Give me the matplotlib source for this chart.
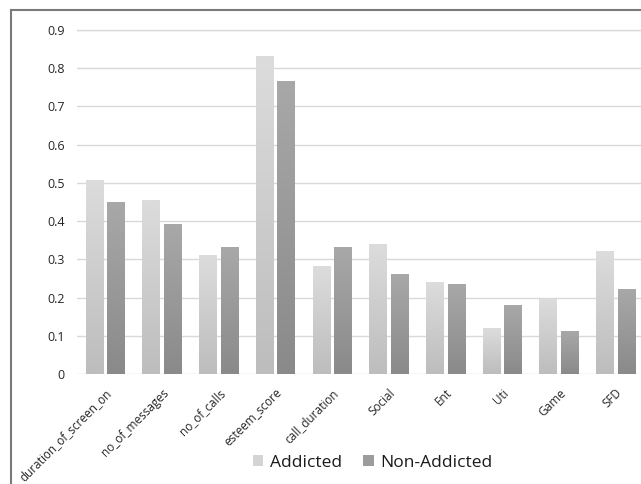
import numpy as np
import matplotlib
matplotlib.use("Agg")
import matplotlib.pyplot as plt
from matplotlib.lines import Line2D
from matplotlib.patches import Patch

plt.rcParams['font.family'] = ['Open Sans', 'DejaVu Sans']

categories = ["duration_of_screen_on", "no_of_messages", "no_of_calls", "esteem_score",
              "call_duration", "Social", "Ent", "Uti", "Game", "SFD"]
addicted = [0.505, 0.455, 0.31, 0.83, 0.28, 0.34, 0.24, 0.12, 0.195, 0.32]
non_addicted = [0.45, 0.39, 0.33, 0.765, 0.33, 0.26, 0.235, 0.18, 0.11, 0.22]
y_ticks = [0, 0.1, 0.2, 0.3, 0.4, 0.5, 0.6, 0.7, 0.8, 0.9]
series_names = ["Addicted", "Non-Addicted"]

W, H = 641, 484
fig = plt.figure(figsize=(W / 100, H / 100), dpi=100)

# plot area in pixel terms
left, right, bottom, top = 77, 644, 374, 30
ax = fig.add_axes([left / W, 1 - bottom / H, (right - left) / W, (bottom - top) / H])

x = np.arange(len(categories))
bw = 0.31
off = 0.19

# gradient colours (top, bottom) for each series
grad = {
    "Addicted": ("#dcdcdc", "#bdbdbd"),
    "Non-Addicted": ("#a8a8a8", "#8a8a8a"),
}

def hex2rgb(h):
    h = h.lstrip('#')
    return np.array([int(h[i:i + 2], 16) / 255 for i in (0, 2, 4)])

def gradient_bars(xs, vals, name):
    top_c, bot_c = (hex2rgb(c) for c in grad[name])
    t = np.linspace(0, 1, 64)[:, None]
    img = (top_c[None, :] * (1 - t) + bot_c[None, :] * t)[:, None, :]
    bars = ax.bar(xs, vals, bw, color="none", edgecolor="none", zorder=3)
    for b in bars:
        x0, w, h = b.get_x(), b.get_width(), b.get_height()
        ax.imshow(img, extent=[x0, x0 + w, 0, h], aspect="auto", zorder=2,
                  interpolation="bilinear")

gradient_bars(x - off, addicted, "Addicted")
gradient_bars(x + off, non_addicted, "Non-Addicted")

ax.set_xlim(-0.5, len(categories) - 0.5)
ax.set_ylim(0, 0.9)
ax.set_yticks(y_ticks)
ax.set_yticklabels([f"{v:g}" for v in y_ticks], fontsize=9, color="#262626")
ax.yaxis.grid(True, color="#d9d9d9", linewidth=1.0, zorder=0)
ax.set_axisbelow(True)
ax.tick_params(axis="both", length=0)
ax.tick_params(axis="y", pad=9)
for s in ax.spines.values():
    s.set_visible(False)
ax.set_xticks(x)
ax.set_xticklabels(categories, rotation=45, ha="right", rotation_mode="anchor",
                   fontsize=8.5, color="#262626")
ax.tick_params(axis="x", pad=9)

# keep the 0.9 gridline visible at the top edge
ax.axhline(0.9, color="#d9d9d9", linewidth=1.0, zorder=0, clip_on=False)

# outer chart frame
frame_color = "#7a7a7a"
fig.add_artist(Line2D([11 / W, 11 / W], [0, 1 - 10 / H], transform=fig.transFigure,
                      color=frame_color, linewidth=1.5))
fig.add_artist(Line2D([11 / W, 1], [1 - 10 / H, 1 - 10 / H], transform=fig.transFigure,
                      color=frame_color, linewidth=1.5))

handles = [Patch(facecolor="#d4d4d4", edgecolor="none"),
           Patch(facecolor="#9c9c9c", edgecolor="none")]
fig.legend(handles, series_names, loc="center", bbox_to_anchor=(373 / W, 1 - 463 / H),
           ncol=2, frameon=False, fontsize=12.5, handlelength=0.6, handleheight=0.6,
           handletextpad=0.4, columnspacing=1.2, labelcolor="#1a1a1a")

fig.savefig("out.png", dpi=100)
